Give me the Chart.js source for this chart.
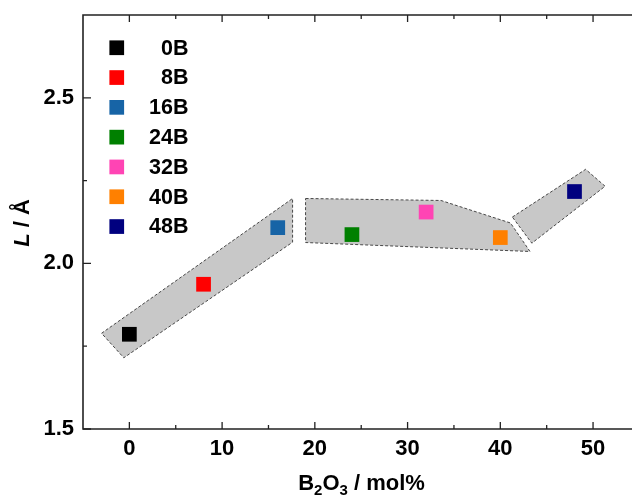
<!DOCTYPE html>
<html>
<head>
<meta charset="utf-8">
<script src="https://cdn.jsdelivr.net/npm/chart.js@4.4.0/dist/chart.umd.min.js"></script>
<style>
  body { margin: 0; background: #fff; }
</style>
</head>
<body>
<canvas id="chart" width="632" height="497"></canvas>
<script>
const samples = ["0B", "8B", "16B", "24B", "32B", "40B", "48B"];
const b2o3 = [0, 8, 16, 24, 32, 40, 48];
const lengths = [1.786, 1.937, 2.108, 2.087, 2.155, 2.078, 2.217];
const colors = ["#000000", "#ff0000", "#1764a6", "#008000", "#ff44b4", "#ff8000", "#00007f"];

const xTicks = [0, 10, 20, 30, 40, 50];
const xMinor = [5, 15, 25, 35, 45];
const yTicks = [1.5, 2.0, 2.5];
const yTickLabels = ["1.5", "2.0", "2.5"];
const yMinor = [1.75, 2.25];

// shaded groups: outline corners in data units (B2O3, L)
const groupA = [[-3.0, 1.789], [17.6, 2.196], [17.6, 2.064], [-0.6, 1.715]];
const groupB = [[19.0, 2.196], [33.6, 2.190], [41.1, 2.122], [43.2, 2.036], [19.0, 2.063]];
const groupC = [[41.3, 2.140], [49.2, 2.284], [51.3, 2.233], [43.4, 2.061]];

const FONT = "'Liberation Sans', Arial, sans-serif";

const groupSets = [groupA, groupB, groupC].map((g) => ({
  data: g.concat([g[0]]).map(([x, y]) => ({ x, y })),
  showLine: true,
  fill: "shape",
  backgroundColor: "#c8c8c8",
  borderColor: "#474747",
  borderWidth: 1,
  borderDash: [3, 2],
  pointRadius: 0,
  tension: 0,
  order: 2,
}));

const sampleSets = samples.map((s, i) => ({
  label: s,
  data: [{ x: b2o3[i], y: lengths[i] }],
  pointStyle: "rect",
  pointRadius: 10.4,
  pointHoverRadius: 10.4,
  backgroundColor: colors[i],
  borderColor: colors[i],
  borderWidth: 0,
  order: 1,
}));

const frame = {
  id: "frame",
  afterDraw(chart) {
    const { ctx, chartArea: a, scales } = chart;
    const x = scales.x, y = scales.y;
    ctx.save();
    ctx.strokeStyle = "#222";
    ctx.lineWidth = 1.6;
    ctx.beginPath();
    ctx.moveTo(chart.width, a.top);
    ctx.lineTo(a.left, a.top);
    ctx.lineTo(a.left, a.bottom);
    ctx.lineTo(chart.width, a.bottom);
    ctx.stroke();
    ctx.lineWidth = 1.3;
    ctx.beginPath();
    const xt = (v, len) => {
      const p = x.getPixelForValue(v);
      ctx.moveTo(p, a.bottom); ctx.lineTo(p, a.bottom - len);
      ctx.moveTo(p, a.top); ctx.lineTo(p, a.top + len);
    };
    const yt = (v, len) => {
      const p = y.getPixelForValue(v);
      ctx.moveTo(a.left, p); ctx.lineTo(a.left + len, p);
    };
    xTicks.forEach((v) => xt(v, 7));
    xMinor.forEach((v) => xt(v, 4));
    yTicks.forEach((v) => yt(v, 8));
    yMinor.forEach((v) => yt(v, 4));
    ctx.stroke();
    ctx.restore();
  },
};

const sampleKey = {
  id: "sampleKey",
  afterDraw(chart) {
    const { ctx } = chart;
    ctx.save();
    ctx.font = "bold 21.5px " + FONT;
    ctx.textAlign = "right";
    ctx.textBaseline = "middle";
    samples.forEach((s, i) => {
      const cy = 47.7 + i * 29.8;
      ctx.fillStyle = colors[i];
      ctx.fillRect(109.4, cy - 7.3, 14.7, 14.7);
      ctx.fillStyle = "#000";
      ctx.fillText(s, 188.5, cy + 1);
    });
    ctx.restore();
  },
};

const axisTitles = {
  id: "axisTitles",
  afterDraw(chart) {
    const { ctx } = chart;
    ctx.save();
    ctx.fillStyle = "#000";
    ctx.textBaseline = "alphabetic";
    ctx.textAlign = "left";
    // x title with subscripts
    const parts = [["B", 0], ["2", 1], ["O", 0], ["3", 1], [" / mol%", 0]];
    const big = "bold 22px " + FONT, small = "bold 15px " + FONT;
    let w = 0;
    parts.forEach(([t, sub]) => { ctx.font = sub ? small : big; w += ctx.measureText(t).width; });
    let px = 361.5 - w / 2;
    parts.forEach(([t, sub]) => {
      ctx.font = sub ? small : big;
      ctx.fillText(t, px, sub ? 495 : 490);
      px += ctx.measureText(t).width;
    });
    // y title
    ctx.translate(28.5, 223);
    ctx.rotate(-Math.PI / 2);
    const l = "italic bold 22px " + FONT, r = "bold 22px " + FONT;
    ctx.font = l; const w1 = ctx.measureText("L").width;
    ctx.font = r; const w2 = ctx.measureText(" / Å").width;
    let sx = -(w1 + w2) / 2;
    ctx.font = l; ctx.fillText("L", sx, 0);
    ctx.font = r; ctx.fillText(" / Å", sx + w1, 0);
    ctx.restore();
  },
};

new Chart(document.getElementById("chart"), {
  type: "scatter",
  data: { datasets: [...sampleSets, ...groupSets] },
  options: {
    responsive: false,
    animation: false,
    devicePixelRatio: 1,
    layout: { autoPadding: false, padding: { top: 15, left: 0, right: 0, bottom: 0 } },
    plugins: { legend: { display: false }, tooltip: { enabled: false } },
    scales: {
      x: {
        type: "linear",
        min: -5,
        max: 54.2,
        afterBuildTicks: (s) => { s.ticks = xTicks.map((v) => ({ value: v })); },
        afterFit: (s) => { s.height = 68; s.paddingLeft = 0; s.paddingRight = 0; },
        grid: { display: false, drawTicks: false },
        border: { display: false },
        ticks: {
          autoSkip: false,
          maxRotation: 0,
          padding: 7,
          color: "#000",
          font: { family: FONT, weight: "bold", size: 22 },
        },
      },
      y: {
        type: "linear",
        min: 1.5,
        max: 2.75,
        afterBuildTicks: (s) => { s.ticks = yTicks.map((v) => ({ value: v })); },
        afterFit: (s) => { s.width = 83; s.paddingTop = 0; s.paddingBottom = 0; },
        grid: { display: false, drawTicks: false },
        border: { display: false },
        ticks: {
          padding: 9,
          color: "#000",
          callback: (v, i) => yTickLabels[i],
          font: { family: FONT, weight: "bold", size: 22 },
        },
      },
    },
  },
  plugins: [frame, sampleKey, axisTitles],
});
</script>
</body>
</html>
